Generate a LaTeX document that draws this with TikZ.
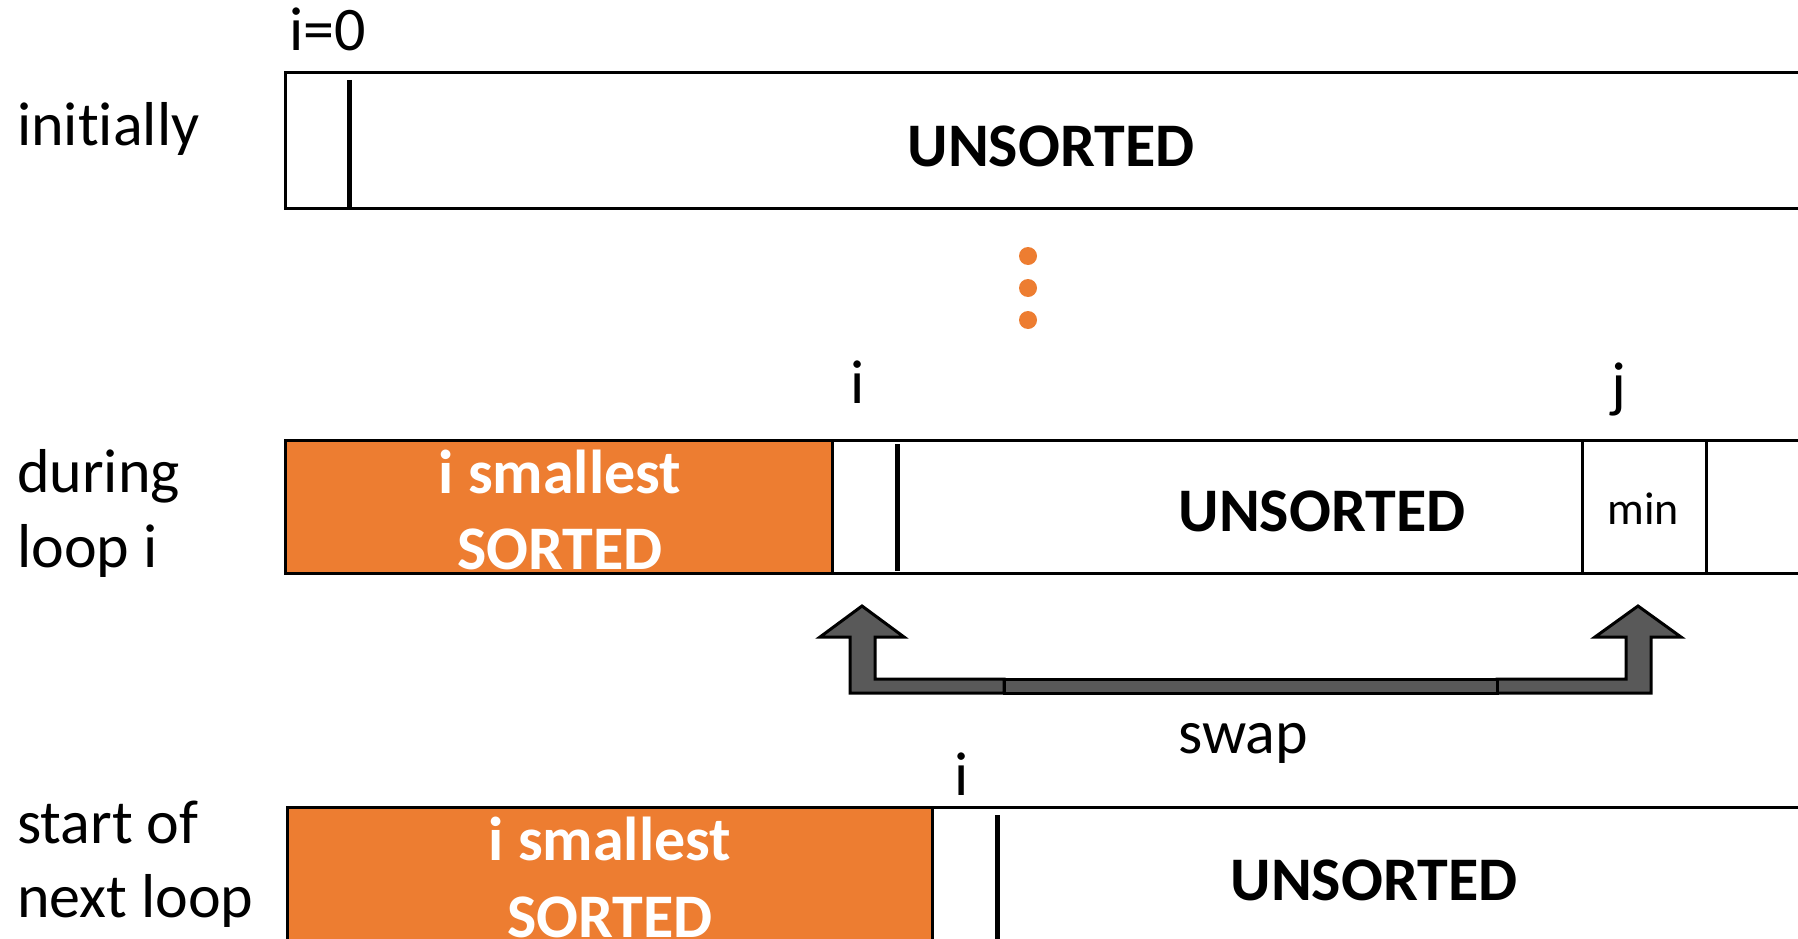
\documentclass[tikz,border=0pt]{standalone}
\usepackage{fontspec}
\setmainfont{Carlito}[Ligatures=NoCommon,RawFeature={-liga;-calt;-dlig}]
\definecolor{sortorange}{HTML}{ED7D31}
\definecolor{arrowgray}{HTML}{595959}
\begin{document}
\begin{tikzpicture}[x=1pt,y=-1pt,
  lbl/.style={inner sep=0pt,font=\fontsize{62}{70}\selectfont},
  boldlbl/.style={lbl,font=\fontsize{62}{70}\selectfont\bfseries},
  sortedtxt/.style={boldlbl,text=white},
  minlbl/.style={inner sep=0pt,font=\fontsize{46}{52}\selectfont},
  cell/.style={draw=black,line width=3pt},
  marker/.style={draw=black,line width=5pt},
  dot/.style={circle,fill=sortorange,inner sep=0pt,minimum size=18pt},
  swaparrow/.style={draw=black,line width=3pt,fill=arrowgray,line join=miter}
]
\useasboundingbox (0,0) rectangle (1798,939);
\begin{scope}
\clip (0,0) rectangle (1798,939);

% ---- initially ----
\node[lbl,anchor=base west] (init) at (17,146) {init\kern0pt ially};
\node[lbl,anchor=base west] (izero) at (289,51) {i=0};
\draw[cell] (285,73) rectangle (1820,208);
\draw[marker] (349,80) -- (349,208);
\node[boldlbl,anchor=base] (unsA) at (1051,166) {UNSORTED};

% ---- ellipsis ----
\node[dot] (d1) at (1028,256) {};
\node[dot] (d2) at (1028,288) {};
\node[dot] (d3) at (1028,320) {};

% ---- during loop i ----
\node[lbl,anchor=base west] (dur1) at (17,492) {during};
\node[lbl,anchor=base west] (dur2) at (17,567) {loop i};
\fill[sortorange] (285,440) rectangle (832,573);
\draw[cell] (285,440) rectangle (1820,573);
\draw[cell] (832,440) -- (832,573);
\draw[cell] (1582,440) rectangle (1706,573);
\draw[marker] (897,444) -- (897,571);
\node[lbl,anchor=base] (ilbl) at (858,403) {i};
\node[lbl,anchor=base] (jlbl) at (1619,405) {j};
\node[sortedtxt,anchor=base] (smallB) at (560,493) {i smallest};
\node[sortedtxt,anchor=base] (sortB) at (560,569) {SORTED};
\node[boldlbl,anchor=base] (unsB) at (1322,531) {UNSORTED};
\node[minlbl,anchor=base] (minlbl) at (1643,524) {min};

% ---- swap arrows ----
\coordinate (swapL) at (1004,686);
\coordinate (swapR) at (1497,686);
\draw[swaparrow] (swapL) |- (850,693) -- (850,637) -- (820,637) -- (862,606)
  -- (904,637) -- (875,637) -- (875,679) -| cycle;
\draw[swaparrow] (swapR) |- (1651,693) -- (1651,637) -- (1681,637) -- (1638,606)
  -- (1595,637) -- (1626,637) -- (1626,679) -| cycle;
\draw[swaparrow] (1004,679) rectangle (1497,693);
\node[lbl,anchor=base] (swap) at (1243,753) {swap};

% ---- start of next loop ----
\node[lbl,anchor=base west] (nxt1) at (17,843) {start of};
\node[lbl,anchor=base west] (nxt2) at (17,917) {next loop};
\fill[sortorange] (287,807) rectangle (932,960);
\draw[cell] (287,807) rectangle (1820,960);
\draw[cell] (932,807) -- (932,960);
\draw[marker] (997,815) -- (997,960);
\node[lbl,anchor=base] (ilblC) at (962,795) {i};
\node[sortedtxt,anchor=base] (smallC) at (610,860) {i smallest};
\node[sortedtxt,anchor=base] (sortC) at (610,937) {SORTED};
\node[boldlbl,anchor=base] (unsC) at (1374,900) {UNSORTED};
\end{scope}
\end{tikzpicture}
\end{document}
